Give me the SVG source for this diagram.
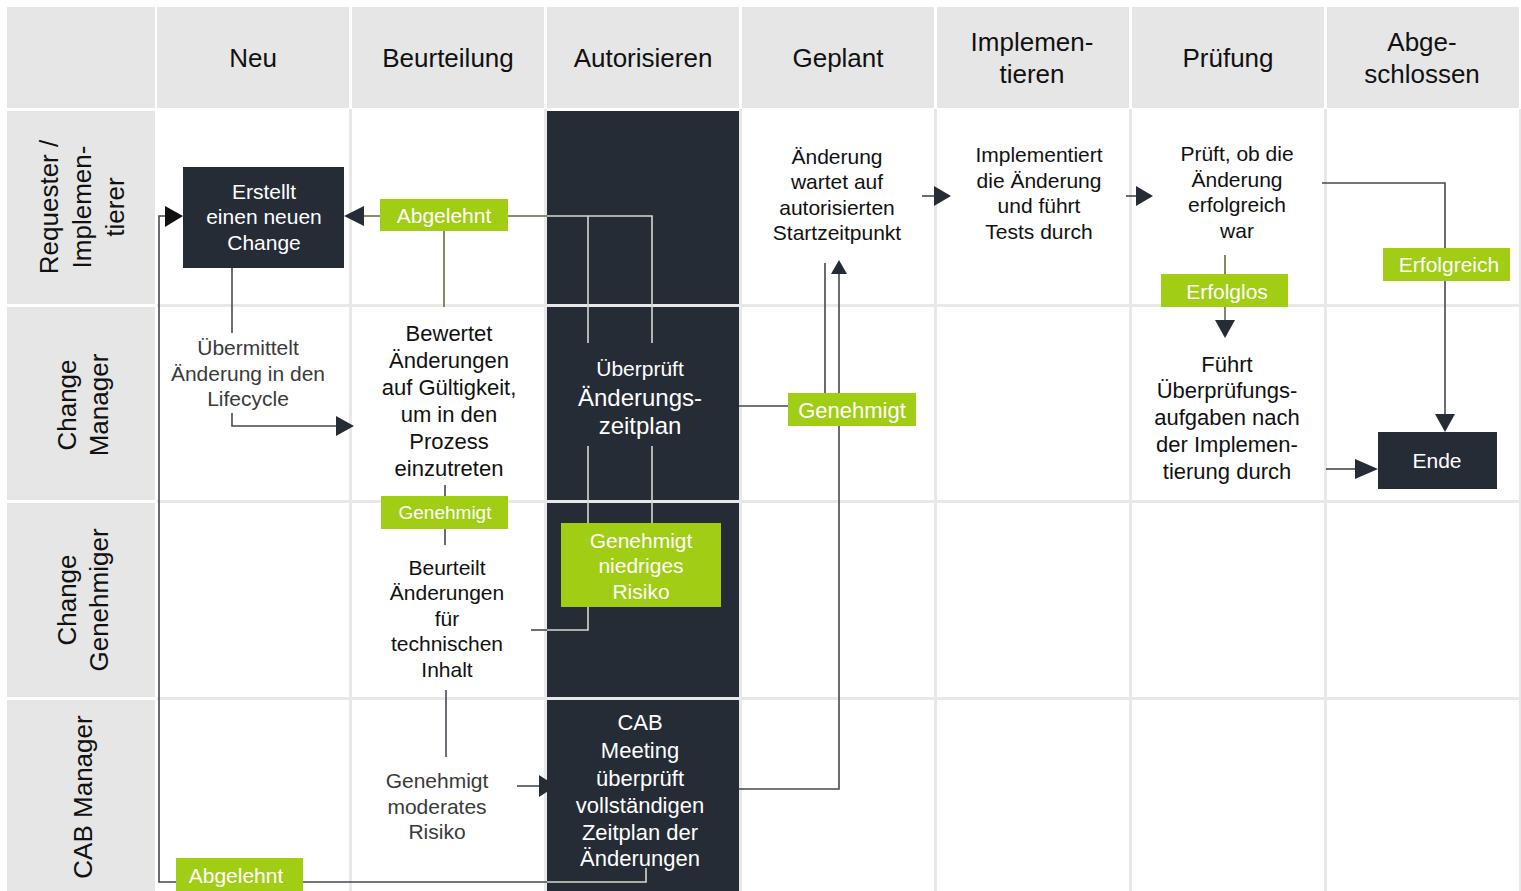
<svg xmlns="http://www.w3.org/2000/svg" width="1521" height="891" viewBox="0 0 1521 891">
<style>
text{font-family:"Liberation Sans",Arial,sans-serif;text-anchor:middle}
.hd{fill:#e6e6e6}
.hdt{font-size:26px;fill:#111}
.gl{fill:#e8e8e8}
.dark{fill:#262c35}
.green{fill:#a1cd14}
.wt{fill:#fff;font-size:21px}
.bt{fill:#111;font-size:21px}
.gt{fill:#3a3a3a;font-size:21px}
.ln{fill:none;stroke:#444a52;stroke-width:1.6}
.ol{fill:none;stroke:#5f6e3c;stroke-width:1.6}
.lt{fill:none;stroke:#d6d9cf;stroke-width:1.6}
.ah{fill:#262c35}
</style>
<rect width="1521" height="891" fill="#fff"/>
<g id="grid">
<rect class="hd" x="7" y="7" width="148" height="101"/>
<rect class="hd" x="157" y="7" width="192" height="101"/>
<rect class="hd" x="352" y="7" width="192" height="101"/>
<rect class="hd" x="547" y="7" width="192" height="101"/>
<rect class="hd" x="742" y="7" width="192" height="101"/>
<rect class="hd" x="937" y="7" width="192" height="101"/>
<rect class="hd" x="1132" y="7" width="192" height="101"/>
<rect class="hd" x="1327" y="7" width="192" height="101"/>
<rect class="hd" x="7" y="111" width="148" height="193"/>
<rect class="hd" x="7" y="307" width="148" height="193"/>
<rect class="hd" x="7" y="503" width="148" height="194"/>
<rect class="hd" x="7" y="700" width="148" height="191"/>
<rect class="gl" x="349" y="109" width="3" height="782"/>
<rect class="gl" x="544" y="109" width="3" height="782"/>
<rect class="gl" x="739" y="109" width="3" height="782"/>
<rect class="gl" x="934" y="109" width="3" height="782"/>
<rect class="gl" x="1129" y="109" width="3" height="782"/>
<rect class="gl" x="1324" y="109" width="3" height="782"/>
<rect class="gl" x="1519" y="109" width="2" height="782"/>
<rect class="dark" x="547" y="111" width="192" height="780"/>
<rect class="gl" x="157" y="304" width="1364" height="3"/>
<rect class="gl" x="157" y="500" width="1364" height="3"/>
<rect class="gl" x="157" y="697" width="1364" height="3"/>
<text class="hdt" x="253" y="67">Neu</text>
<text class="hdt" x="448" y="67">Beurteilung</text>
<text class="hdt" x="643" y="67">Autorisieren</text>
<text class="hdt" x="838" y="67">Geplant</text>
<text class="hdt" x="1032" y="51">Implemen-</text>
<text class="hdt" x="1032" y="83">tieren</text>
<text class="hdt" x="1228" y="67">Prüfung</text>
<text class="hdt" x="1422" y="51">Abge-</text>
<text class="hdt" x="1422" y="83">schlossen</text>
<g transform="translate(0,207) rotate(-90)">
<text class="hdt" x="0" y="58">Requester /</text>
<text class="hdt" x="0" y="91">Implemen-</text>
<text class="hdt" x="0" y="124">tierer</text>
</g>
<g transform="translate(0,405) rotate(-90)">
<text class="hdt" x="0" y="76">Change</text>
<text class="hdt" x="0" y="108">Manager</text>
</g>
<g transform="translate(0,600) rotate(-90)">
<text class="hdt" x="0" y="76">Change</text>
<text class="hdt" x="0" y="108">Genehmiger</text>
</g>
<g transform="translate(0,797) rotate(-90)">
<text class="hdt" x="0" y="92">CAB Manager</text>
</g>
</g>
<g id="connectors">
<path class="lt" d="M588,343 V216 H547 M652,343 V216 H588"/>
<path class="ol" d="M547,216 H508 M380,216 H362"/>
<polygon class="ah" points="344,216 364,206 364,226"/>
<path class="ol" d="M444,231 V307"/>
<path class="ln" d="M232,268 V333"/>
<path class="ln" d="M232,413 V426 H338"/>
<polygon class="ah" points="354,426 336,416 336,436"/>
<path class="ln" d="M445,485 V496 M445,529 V545"/>
<path class="ln" d="M531,630 H547"/>
<path class="lt" d="M547,630 H588 V607"/>
<path class="lt" d="M588,523 V446 M652,523 V446"/>
<path class="ln" d="M446,690 V757"/>
<path class="ln" d="M517,786 H540"/>
<polygon class="ah" points="556,786 539,775 539,797"/>
<path class="ln" d="M739,406 H788 M825,393 V263 M839,393 V273 M839,426 V789 H739"/>
<polygon class="ah" points="839,260 831,274 847,274"/>
<path class="lt" d="M646,868 V882 H547"/>
<path class="ln" d="M547,882 H303 M176,882 H159 V216 H166"/>
<polygon fill="#111" points="183,216 165,206 165,227"/>
<path class="ln" d="M922,196 H936"/>
<polygon class="ah" points="951,196 934,186 934,206"/>
<path class="ln" d="M1126,196 H1138"/>
<polygon class="ah" points="1153,196 1136,186 1136,206"/>
<path class="ln" d="M1322,183 H1445 V248 M1445,281 V415"/>
<polygon class="ah" points="1445,432 1435,414 1455,414"/>
<path class="ol" d="M1225,255 V274 M1225,307 V321"/>
<polygon class="ah" points="1225,338 1215,320 1235,320"/>
<path class="ln" d="M1326,469 H1357"/>
<polygon class="ah" points="1378,469 1355,459 1355,479"/>
</g>
<g id="n-erstellt">
<rect class="dark" x="183" y="167" width="161" height="101"/>
<text class="wt" x="264" y="199">Erstellt</text>
<text class="wt" x="264" y="224">einen neuen</text>
<text class="wt" x="264" y="250">Change</text>
</g>
<g id="l-abgelehnt1">
<rect class="green" x="380" y="199" width="128" height="32"/>
<text class="wt" x="444" y="223">Abgelehnt</text>
</g>
<g id="n-uebermittelt">
<text class="gt" x="248" y="355">Übermittelt</text>
<text class="gt" x="248" y="381">Änderung in den</text>
<text class="gt" x="248" y="406">Lifecycle</text>
</g>
<g id="n-bewertet">
<text class="bt" x="449" y="341" style="font-size:22px">Bewertet</text>
<text class="bt" x="449" y="368" style="font-size:22px">Änderungen</text>
<text class="bt" x="449" y="395" style="font-size:22px">auf Gültigkeit,</text>
<text class="bt" x="449" y="422" style="font-size:22px">um in den</text>
<text class="bt" x="449" y="449" style="font-size:22px">Prozess</text>
<text class="bt" x="449" y="476" style="font-size:22px">einzutreten</text>
</g>
<g id="l-genehmigt1">
<rect class="green" x="381" y="496" width="127" height="33"/>
<text class="wt" x="445" y="519" style="font-size:19px">Genehmigt</text>
</g>
<g id="n-beurteilt">
<text class="bt" x="447" y="575">Beurteilt</text>
<text class="bt" x="447" y="600">Änderungen</text>
<text class="bt" x="447" y="626">für</text>
<text class="bt" x="447" y="651">technischen</text>
<text class="bt" x="447" y="677">Inhalt</text>
</g>
<g id="n-moderat">
<text class="gt" x="437" y="788">Genehmigt</text>
<text class="gt" x="437" y="814">moderates</text>
<text class="gt" x="437" y="839">Risiko</text>
</g>
<g id="n-ueberprueft">
<text class="wt" x="640" y="376">Überprüft</text>
<text class="wt" x="640" y="406" style="font-size:24px">Änderungs-</text>
<text class="wt" x="640" y="434" style="font-size:24px">zeitplan</text>
</g>
<g id="l-niedrig">
<rect class="green" x="561" y="523" width="160" height="84"/>
<text class="wt" x="641" y="548">Genehmigt</text>
<text class="wt" x="641" y="573">niedriges</text>
<text class="wt" x="641" y="599">Risiko</text>
</g>
<g id="n-cab">
<text class="wt" x="640" y="730" style="font-size:22px">CAB</text>
<text class="wt" x="640" y="758" style="font-size:22px">Meeting</text>
<text class="wt" x="640" y="786" style="font-size:22px">überprüft</text>
<text class="wt" x="640" y="813" style="font-size:22px">vollständigen</text>
<text class="wt" x="640" y="840" style="font-size:22px">Zeitplan der</text>
<text class="wt" x="640" y="866" style="font-size:22px">Änderungen</text>
</g>
<g id="l-abgelehnt2">
<rect class="green" x="176" y="858" width="127" height="33"/>
<text class="wt" x="236" y="883">Abgelehnt</text>
</g>
<g id="l-genehmigt2">
<rect class="green" x="788" y="393" width="128" height="33"/>
<text class="wt" x="852" y="418" style="font-size:22px">Genehmigt</text>
</g>
<g id="n-wartet">
<text class="bt" x="837" y="164">Änderung</text>
<text class="bt" x="837" y="189">wartet auf</text>
<text class="bt" x="837" y="215">autorisierten</text>
<text class="bt" x="837" y="240">Startzeitpunkt</text>
</g>
<g id="n-implementiert">
<text class="bt" x="1039" y="162">Implementiert</text>
<text class="bt" x="1039" y="188">die Änderung</text>
<text class="bt" x="1039" y="213">und führt</text>
<text class="bt" x="1039" y="239">Tests durch</text>
</g>
<g id="n-prueft">
<text class="bt" x="1237" y="161">Prüft, ob die</text>
<text class="bt" x="1237" y="187">Änderung</text>
<text class="bt" x="1237" y="212">erfolgreich</text>
<text class="bt" x="1237" y="238">war</text>
</g>
<g id="l-erfolgreich">
<rect class="green" x="1383" y="248" width="127" height="33"/>
<text class="wt" x="1449" y="272">Erfolgreich</text>
</g>
<g id="l-erfolglos">
<rect class="green" x="1161" y="274" width="127" height="33"/>
<text class="wt" x="1227" y="299">Erfolglos</text>
</g>
<g id="n-fuehrt">
<text class="bt" x="1227" y="372" style="font-size:22px">Führt</text>
<text class="bt" x="1227" y="398" style="font-size:22px">Überprüfungs-</text>
<text class="bt" x="1227" y="425" style="font-size:22px">aufgaben nach</text>
<text class="bt" x="1227" y="452" style="font-size:22px">der Implemen-</text>
<text class="bt" x="1227" y="479" style="font-size:22px">tierung durch</text>
</g>
<g id="n-ende">
<rect class="dark" x="1378" y="432" width="119" height="57"/>
<text class="wt" x="1437" y="468">Ende</text>
</g>
</svg>
